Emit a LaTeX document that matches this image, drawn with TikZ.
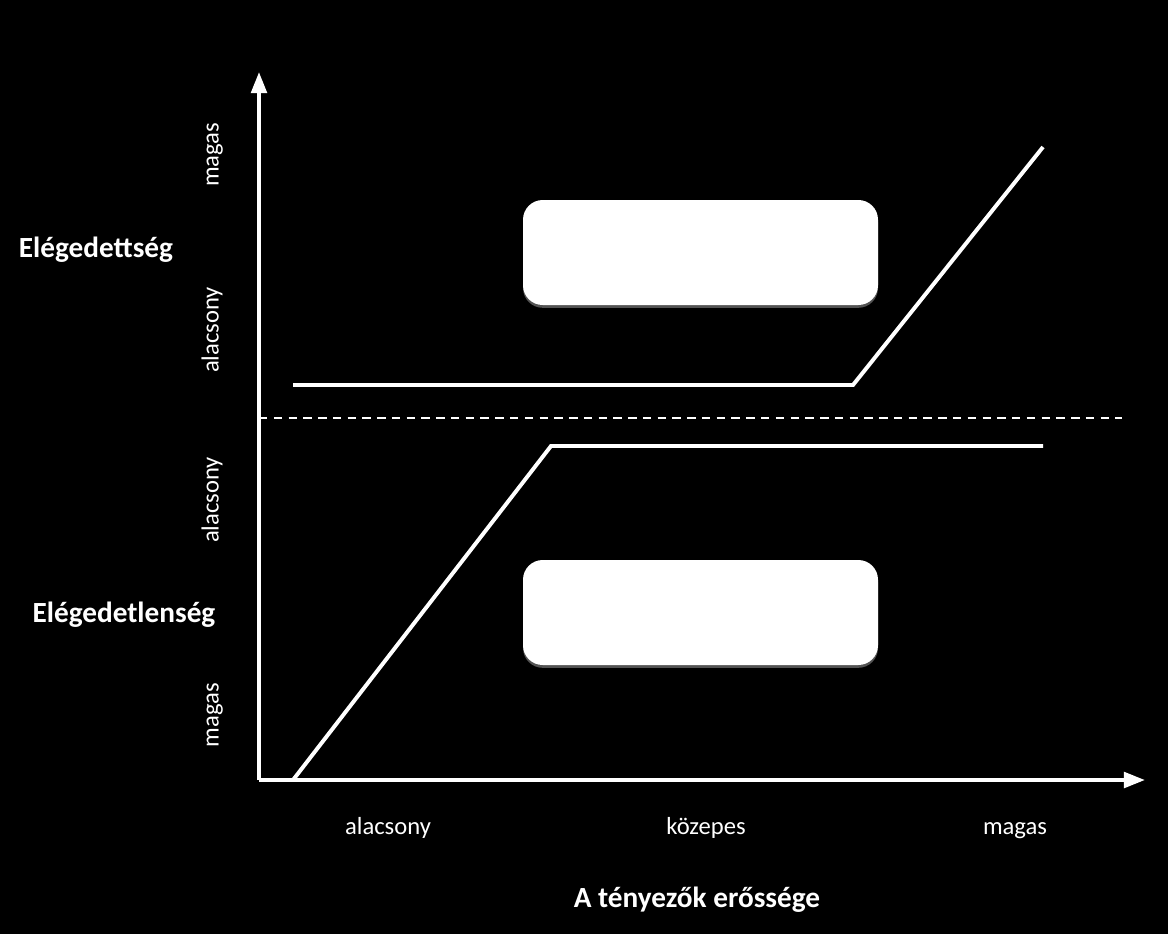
\documentclass[tikz,border=0pt]{standalone}
\usepackage{fontspec}
\setmainfont{Carlito}
\usepackage{tikz}
\usetikzlibrary{arrows.meta,shadows,positioning,calc}

\begin{document}
\begin{tikzpicture}[x=0.025cm,y=-0.025cm,
          axis/.style={white,line width=2.8pt,-{Triangle[length=15pt,width=11pt]}},
          curve/.style={white,line width=2.8pt},
          lab/.style={white,font=\fontsize{17.5}{20}\selectfont,inner sep=0pt,
                      text height=12pt,text depth=4pt},
          head/.style={white,font=\fontsize{20.8}{24}\selectfont\bfseries,inner sep=0pt,
                       text height=14pt,text depth=5pt},
          box/.style={draw=none,fill=white,rounded corners=14pt,
                      minimum width=355*0.025cm,minimum height=105*0.025cm,
                      drop shadow={fill=gray!70,shadow xshift=0pt,shadow yshift=-2pt}}]
          \fill[black] (0,0) rectangle (1168,934);
          \useasboundingbox (0,0) rectangle (1168,934);
          \coordinate (o) at (259,780);
          \coordinate (ytop) at (259,72);
          \coordinate (xend) at (1145,780);
          \draw[axis] (o) -- (ytop);
          \draw[axis] (o) -- (xend);
          \coordinate (dl) at (259,418);
          \coordinate (dr) at (1122,418);
          \draw[white,line width=1.1pt,dash pattern=on 6pt off 4.5pt] (dl) -- (dr);
          \coordinate (s1) at (293,385);
          \coordinate (s2) at (853,385);
          \coordinate (s3) at (1043,147);
          \draw[curve] (s1) -- (s2) -- (s3);
          \coordinate (d1) at (293,780);
          \coordinate (d2) at (551,446);
          \coordinate (d3) at (1043,446);
          \draw[curve] (d1) -- (d2) -- (d3);
          \node[box] (boxup) at (700.5,252.5) {};
          \node[box] (boxlow) at (700.5,612.5) {};
          \node[head] (sat) at (96,251) {Elégedettség};
          \node[head] (dissat) at (124,616) {Elégedetlenség};
          \node[head] (xtitle) at (697,901) {A tényezők erőssége};
          \node[lab] (xlo) at (388,829) {alacsony};
          \node[lab] (xmid) at (706,829) {közepes};
          \node[lab] (xhi) at (1015,829) {magas};
          \node[lab,rotate=90] (yhi1) at (213,155) {magas};
          \node[lab,rotate=90] (ylo1) at (213,330) {alacsony};
          \node[lab,rotate=90] (ylo2) at (213,500) {alacsony};
          \node[lab,rotate=90] (yhi2) at (213,715) {magas};
        \end{tikzpicture}
\end{document}
